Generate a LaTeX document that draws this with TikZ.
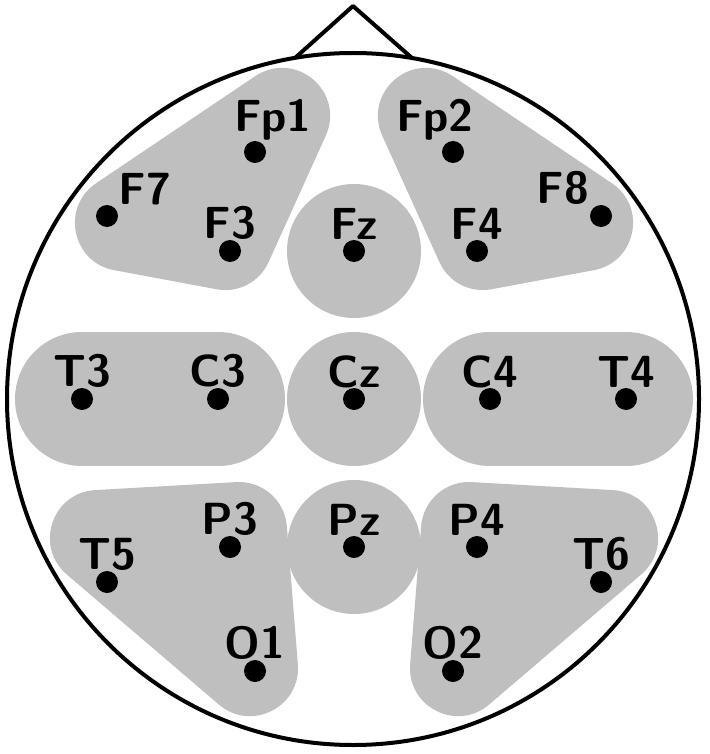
\documentclass[tikz,border=0pt]{standalone}
\usepackage{fontspec}
\usepackage{tikz}
\usetikzlibrary{positioning}

\begin{document}
\begin{tikzpicture}[x=1pt, y=-1pt,
        electrode/.style={circle, fill=black, inner sep=0pt, minimum size=22pt, label distance=5pt},
        every label/.style={inner sep=0pt, font=\fontsize{45}{54}\sffamily\bfseries},
        area/.style={fill=black!25, draw=black!25, line width=96pt, line join=round},
        blob/.style={fill=black!25}]
        \useasboundingbox (0,0) rectangle (709,754);

        % groups of electrodes
        \coordinate (a1) at (282,116);
        \coordinate (a2) at (123,223);
        \coordinate (a3) at (225,242);
        \coordinate (b1) at (426,116);
        \coordinate (b2) at (585,223);
        \coordinate (b3) at (483,242);
        \coordinate (c1) at (98,538);
        \coordinate (c2) at (239,530);
        \coordinate (c3) at (250,668);
        \coordinate (d1) at (610,538);
        \coordinate (d2) at (469,530);
        \coordinate (d3) at (458,668);
        \path[area] (a1) -- (a2) -- (a3) -- cycle;
        \path[area] (b1) -- (b2) -- (b3) -- cycle;
        \path[area] (c1) -- (c2) -- (c3) -- cycle;
        \path[area] (d1) -- (d2) -- (d3) -- cycle;
        \fill[blob] (354,251) circle (67);
        \fill[blob] (354,399) circle (67);
        \fill[blob] (354,547) circle (67);
        \draw[black!25, line width=134pt, line cap=round] (82,399) -- (218,399);
        \draw[black!25, line width=134pt, line cap=round] (490,399) -- (626,399);

        % head
        \node[circle, draw, line width=4pt, minimum size=692pt, inner sep=0pt] (head) at (353,399) {};
        \coordinate (nl) at (295,58);
        \coordinate (nt) at (353,6);
        \coordinate (nr) at (412,58);
        \draw[line width=4pt, line join=round] (nl) -- (nt) -- (nr);

        % electrodes
        \node[electrode, label={[xshift=18pt]above:Fp1}] (Fp1) at (255,152) {};
        \node[electrode, label={[xshift=-18pt]above:Fp2}] (Fp2) at (453,152) {};
        \node[electrode, label={[xshift=38pt]above:F7}] (F7) at (107,216) {};
        \node[electrode, label={[xshift=-38pt]above:F8}] (F8) at (601,216) {};
        \node[electrode, label=above:F3] (F3) at (230,251) {};
        \node[electrode, label=above:Fz] (Fz) at (354,251) {};
        \node[electrode, label=above:F4] (F4) at (477,251) {};
        \node[electrode, label=above:T3] (T3) at (82,399) {};
        \node[electrode, label=above:C3] (C3) at (218,399) {};
        \node[electrode, label=above:Cz] (Cz) at (354,399) {};
        \node[electrode, label=above:C4] (C4) at (490,399) {};
        \node[electrode, label=above:T4] (T4) at (626,399) {};
        \node[electrode, label=above:T5] (T5) at (107,582) {};
        \node[electrode, label=above:P3] (P3) at (230,547) {};
        \node[electrode, label=above:Pz] (Pz) at (354,547) {};
        \node[electrode, label=above:P4] (P4) at (477,547) {};
        \node[electrode, label=above:T6] (T6) at (601,582) {};
        \node[electrode, label=above:O1] (O1) at (255,671) {};
        \node[electrode, label=above:O2] (O2) at (453,671) {};
    \end{tikzpicture}
\end{document}
